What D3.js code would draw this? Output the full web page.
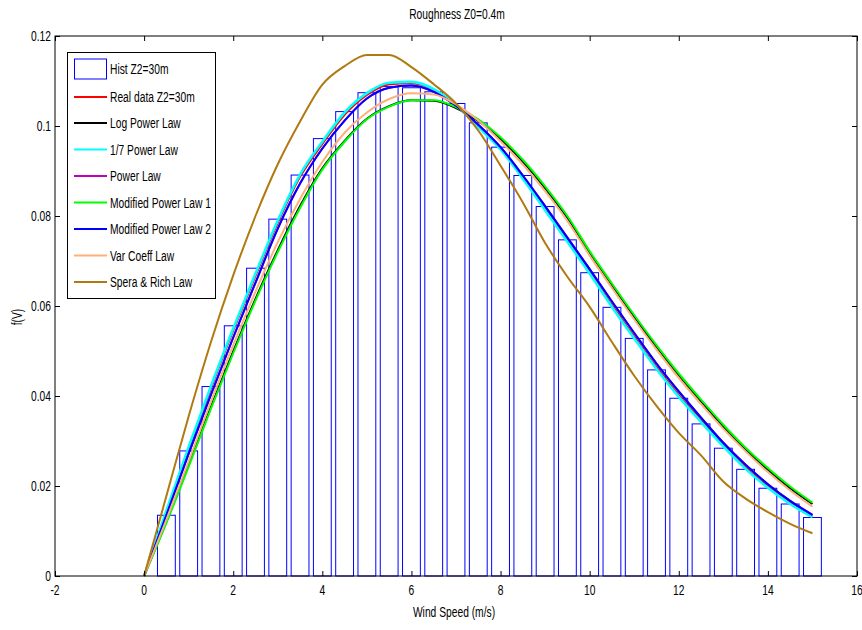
<!DOCTYPE html>
<html><head><meta charset="utf-8">
<script src="https://cdn.jsdelivr.net/npm/d3@7"></script>
<style>
html,body{margin:0;padding:0;background:#fff;}
text{font-family:"Liberation Sans",Arial,sans-serif;}
</style></head>
<body><svg id="c" width="862" height="630"></svg>
<script>
// ---- data ----
const titleText = "Roughness Z0=0.4m";
const xLabel = "Wind Speed (m/s)";
const yLabel = "f(V)";
const xTicks = [-2,0,2,4,6,8,10,12,14,16];
const yTicks = [0,0.02,0.04,0.06,0.08,0.1,0.12];
const yTickLabels = ["0","0.02","0.04","0.06","0.08","0.1","0.12"];

const binCenters = [0.5,1,1.5,2,2.5,3,3.5,4,4.5,5,5.5,6,6.5,7,7.5,8,8.5,9,9.5,10,10.5,11,11.5,12,12.5,13,13.5,14,14.5,15];
const histValues = [0.0135,0.0278,0.0421,0.0556,0.0684,0.0793,0.0891,0.0972,0.1032,0.1074,0.1088,0.1085,0.1076,0.1050,0.1007,0.0953,0.0890,0.0821,0.0747,0.0674,0.0597,0.0528,0.0458,0.0395,0.0338,0.0284,0.0237,0.0195,0.0160,0.0130];

const speeds = [0,0.5,1,1.5,2,2.5,3,3.5,4,4.5,5,5.5,6,6.5,7,7.5,8,8.5,9,9.5,10,10.5,11,11.5,12,12.5,13,13.5,14,14.5,15];
const realData   = [0,0.0141,0.0282,0.0417,0.0545,0.0667,0.0785,0.0887,0.0960,0.1025,0.1069,0.1093,0.1095,0.1081,0.1046,0.1001,0.0951,0.0886,0.0816,0.0746,0.0676,0.0602,0.0532,0.0464,0.0402,0.0346,0.0291,0.0241,0.0199,0.0163,0.0133];
const logPower   = [0,0.0121,0.0247,0.0376,0.0499,0.0616,0.0724,0.0822,0.0906,0.0967,0.1016,0.1044,0.1057,0.1056,0.1040,0.1011,0.0971,0.0921,0.0862,0.0796,0.0718,0.0646,0.0576,0.0509,0.0446,0.0388,0.0332,0.0281,0.0236,0.0195,0.0160];
const seventhLaw = [0,0.0145,0.0287,0.0422,0.0550,0.0672,0.0790,0.0892,0.0965,0.1030,0.1073,0.1096,0.1098,0.1082,0.1046,0.0998,0.0948,0.0883,0.0813,0.0743,0.0672,0.0598,0.0528,0.0460,0.0398,0.0342,0.0288,0.0238,0.0196,0.0160,0.0131];
const powerLaw   = [0,0.0135,0.0272,0.0403,0.0530,0.0652,0.0772,0.0872,0.0950,0.1012,0.1061,0.1085,0.1090,0.1076,0.1045,0.1003,0.0953,0.0890,0.0822,0.0752,0.0682,0.0610,0.0540,0.0472,0.0410,0.0352,0.0296,0.0247,0.0204,0.0167,0.0136];
const modPower1  = [0,0.0118,0.0243,0.0372,0.0495,0.0612,0.0720,0.0818,0.0903,0.0965,0.1015,0.1043,0.1057,0.1057,0.1042,0.1015,0.0975,0.0925,0.0866,0.0800,0.0722,0.0650,0.0580,0.0513,0.0450,0.0392,0.0336,0.0285,0.0240,0.0199,0.0163];
const modPower2  = [0,0.0135,0.0272,0.0403,0.0530,0.0652,0.0772,0.0872,0.0950,0.1012,0.1061,0.1085,0.1090,0.1076,0.1045,0.1003,0.0953,0.0890,0.0822,0.0752,0.0682,0.0610,0.0540,0.0472,0.0410,0.0352,0.0296,0.0247,0.0204,0.0167,0.0136];
const varCoeff   = [0,0.0125,0.0255,0.0388,0.0513,0.0632,0.0742,0.0838,0.0920,0.0985,0.1030,0.1060,0.1073,0.1070,0.1048,0.1012,0.0966,0.0914,0.0855,0.0789,0.0712,0.0640,0.0570,0.0503,0.0440,0.0382,0.0327,0.0277,0.0231,0.0190,0.0154];
const speraRich  = [0,0.0178,0.0355,0.0520,0.0668,0.0800,0.0915,0.1010,0.1092,0.1133,0.1158,0.1158,0.1131,0.1093,0.1050,0.0990,0.0912,0.0830,0.0740,0.0665,0.0598,0.0520,0.0445,0.0378,0.0318,0.0268,0.0210,0.0172,0.0142,0.0116,0.0095];

const seriesNames = ["Real data Z2=30m","Log  Power Law","1/7 Power Law","Power Law","Modified Power Law 1","Modified Power Law 2","Var Coeff Law","Spera & Rich Law"];
const seriesValues = [realData,logPower,seventhLaw,powerLaw,modPower1,modPower2,varCoeff,speraRich];
const seriesColors = ["#ff0000","#000000","#00ffff","#bf00bf","#00ff00","#0000ff","#ffb07a","#b07a10"];
const histName = "Hist Z2=30m";
const binWidth = 0.4;

// ---- layout ----
const FS = 15, SX = 0.685;
const svg = d3.select("#c");
const L = 55, R = 857, T = 36, B = 576;
const x = d3.scaleLinear().domain([-2,16]).range([L,R]);
const y = d3.scaleLinear().domain([0,0.12]).range([B,T]);

svg.append("rect").attr("x",0).attr("y",0).attr("width",862).attr("height",630).attr("fill","#fff");

function label(parent, px, py, str, anchor, rot){
  const g = parent.append("g").attr("transform", `translate(${px},${py})` + (rot ? ` rotate(${rot})` : "") + ` scale(${SX},1)`);
  g.append("text").attr("x",0).attr("y",0).attr("dy","0.35em").attr("text-anchor",anchor||"start")
    .attr("font-size",FS).attr("fill","#000").text(str);
  return g;
}

// bars
svg.append("g").selectAll("rect").data(binCenters).join("rect")
  .attr("x",(d)=>x(d-binWidth/2)).attr("width",(d)=>x(d+binWidth/2)-x(d-binWidth/2))
  .attr("y",(d,i)=>y(histValues[i])).attr("height",(d,i)=>y(0)-y(histValues[i]))
  .attr("fill","none").attr("stroke","#0000ff").attr("stroke-width",1);

// lines
const line = d3.line().x((d)=>x(d[0])).y((d)=>y(d[1])).curve(d3.curveMonotoneX);
seriesValues.forEach((vals,k)=>{
  svg.append("path").datum(speeds.map((s,i)=>[s,vals[i]]))
    .attr("d",line).attr("fill","none").attr("stroke",seriesColors[k])
    .attr("stroke-width", k===2 ? 2.6 : 2).attr("stroke-linejoin","round");
});

// axes (ticks via d3 axis, labels condensed)
const gx = svg.append("g").attr("transform",`translate(0,${B})`)
  .call(d3.axisBottom(x).tickValues(xTicks).tickSizeInner(-5).tickSizeOuter(0).tickFormat(""));
const gy = svg.append("g").attr("transform",`translate(${L},0)`)
  .call(d3.axisLeft(y).tickValues(yTicks).tickSizeInner(-5).tickSizeOuter(0).tickFormat(""));
svg.append("g").attr("transform",`translate(0,${T})`).call(d3.axisTop(x).tickValues(xTicks).tickSizeInner(-5).tickSizeOuter(0).tickFormat(""));
svg.append("g").attr("transform",`translate(${R},0)`).call(d3.axisRight(y).tickValues(yTicks).tickSizeInner(-5).tickSizeOuter(0).tickFormat(""));
svg.selectAll(".domain").remove();
svg.selectAll(".tick line").attr("stroke","#000");
svg.append("rect").attr("x",L).attr("y",T).attr("width",R-L).attr("height",B-T)
  .attr("fill","none").attr("stroke","#000").attr("stroke-width",1);

const tl = svg.append("g").attr("class","ticklabels");
xTicks.forEach((t)=>label(tl, x(t), 590, String(t), "middle"));
yTicks.forEach((t,i)=>label(tl, L-4, y(t), yTickLabels[i], "end"));

// labels
label(svg, (L+R)/2+1, 14, titleText, "middle");
label(svg, (L+R)/2-2, 612, xLabel, "middle");
label(svg, 17, 317, yLabel, "middle", -90);

// legend
const lg = svg.append("g");
lg.append("rect").attr("x",67.5).attr("y",52.5).attr("width",148).attr("height",246).attr("fill","#fff").attr("stroke","#000");
const rowY = [69,97,123,149.5,176,202.5,229,255.5,282];
lg.append("rect").attr("x",74.5).attr("y",rowY[0]-10).attr("width",32).attr("height",20).attr("fill","#fff").attr("stroke","#0000ff");
label(lg, 110, rowY[0], histName, "start");
seriesNames.forEach((n,k)=>{
  const yy = rowY[k+1];
  lg.append("line").attr("x1",74).attr("x2",107).attr("y1",yy).attr("y2",yy).attr("stroke",seriesColors[k]).attr("stroke-width",2);
  label(lg, 110, yy, n, "start");
});
</script></body></html>
